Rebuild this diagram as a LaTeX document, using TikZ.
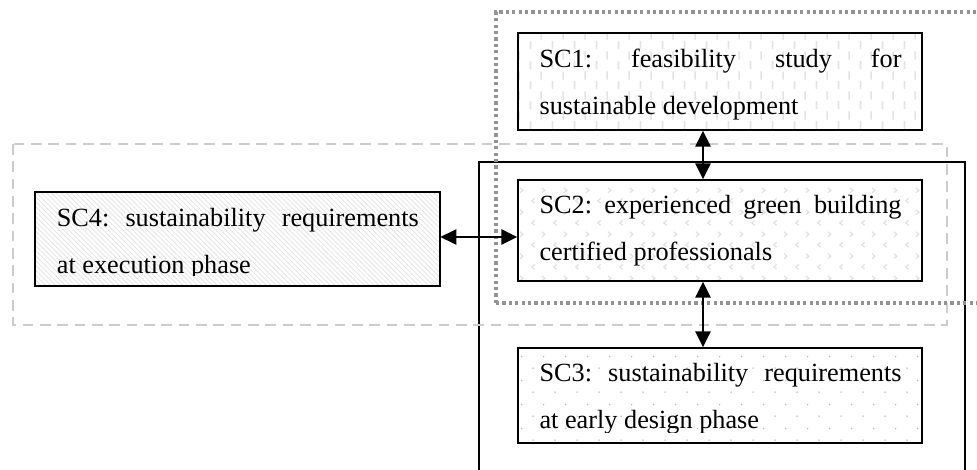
\documentclass[tikz,border=0pt]{standalone}
\usepackage{fontspec}
\setmainfont{Liberation Serif}
\usetikzlibrary{patterns.meta,arrows.meta,fit,calc}

% light fill textures for the four boxes
\tikzdeclarepattern{
  name=vdashes, type=uncolored,
  bottom left={(0pt,0pt)}, top right={(16.5pt,15pt)}, tile size={(16.5pt,15pt)},
  code={\draw[line width=1.3pt] (2pt,0.6pt) -- (2pt,7pt) (10.25pt,8.1pt) -- (10.25pt,14.5pt);}
}
\tikzdeclarepattern{
  name=chevrons, type=uncolored,
  bottom left={(0pt,0pt)}, top right={(16.5pt,16.5pt)}, tile size={(16.5pt,16.5pt)},
  code={\draw[line width=0.9pt]
      (5.2pt,2.1pt) -- (3pt,4pt) -- (5.2pt,5.9pt)
      (11pt,10.35pt) -- (13.2pt,12.25pt) -- (11pt,14.15pt);}
}
\tikzdeclarepattern{
  name=dotgrid, type=uncolored,
  bottom left={(0pt,0pt)}, top right={(16.5pt,18pt)}, tile size={(16.5pt,18pt)},
  code={\fill (4pt,4.5pt) circle (0.65pt) (12.25pt,13.5pt) circle (0.65pt);}
}

\tikzset{
  box/.style={draw=black, line width=1.1pt, inner sep=0pt},
  txt/.style={anchor=base west, inner sep=0pt, text width=271.5pt, align=justify,
    font=\fontsize{19.7pt}{35.25pt}\selectfont\frenchspacing},
  link/.style={line width=1.5pt, {Triangle[length=12pt,width=11.5pt]}-{Triangle[length=12pt,width=11.5pt]}},
  dotframe/.style={draw=gray!85, line width=2.6pt, dash pattern=on 2.4pt off 2.4pt},
  dashframe/.style={draw=gray!40, line width=1.6pt, dash pattern=on 8pt off 5pt},
  solidframe/.style={draw=black, line width=1.4pt}
}

\begin{document}
\begin{tikzpicture}[x=0.75pt, y=-0.75pt]
\useasboundingbox (0,0) rectangle (977,470);
\clip (0,0) rectangle (977,470);

% grouping frames
\draw[solidframe] (479,482) -- (479,162) -- (965,162) -- (965,482);
\draw[dashframe] (13,144) rectangle (947,325);
\draw[dotframe] (496,303) -- (496,12) -- (990,12) (496,303) -- (990,303);

% boxes
\node[box, pattern={vdashes}, pattern color=gray!22, fit={(518,33) (922,130)}] (sc1) {};
\node[box, pattern={chevrons}, pattern color=gray!25, fit={(518,180) (922,281)}] (sc2) {};
\node[box, pattern={dotgrid}, pattern color=gray!55, fit={(518,348) (922,443)}] (sc3) {};
\node[box, pattern={Lines[angle=-45, distance=2.6pt, line width=0.6pt]}, pattern color=gray!22,
      fit={(35,192) (440,286)}] (sc4) {};

% box texts, cut off a little above each box's lower edge
\begin{scope}
  \clip (sc1.north west) rectangle ($(sc1.south east)+(0,-11)$);
  \node[txt] (t1) at ($(sc1.north west)+(22,35)$)
    {SC1: feasibility study for\linebreak sustainable development};
\end{scope}
\begin{scope}
  \clip (sc2.north west) rectangle ($(sc2.south east)+(0,-11)$);
  \node[txt] (t2) at ($(sc2.north west)+(22,34)$)
    {SC2: experienced green building\linebreak certified professionals};
\end{scope}
\begin{scope}
  \clip (sc3.north west) rectangle ($(sc3.south east)+(0,-11)$);
  \node[txt] (t3) at ($(sc3.north west)+(22,34)$)
    {SC3: sustainability requirements\linebreak at early design phase};
\end{scope}
\begin{scope}
  \clip (sc4.north west) rectangle ($(sc4.south east)+(0,-11)$);
  \node[txt] (t4) at ($(sc4.north west)+(22,35)$)
    {SC4: sustainability requirements\linebreak at execution phase};
\end{scope}

% connectors
\coordinate (ax) at (703,0);
\coordinate (ay) at (0,237);
\draw[link] (sc1.south -| ax) -- (sc2.north -| ax);
\draw[link] (sc2.south -| ax) -- (sc3.north -| ax);
\draw[link] (sc4.east |- ay) -- (sc2.west |- ay);
\end{tikzpicture}
\end{document}
